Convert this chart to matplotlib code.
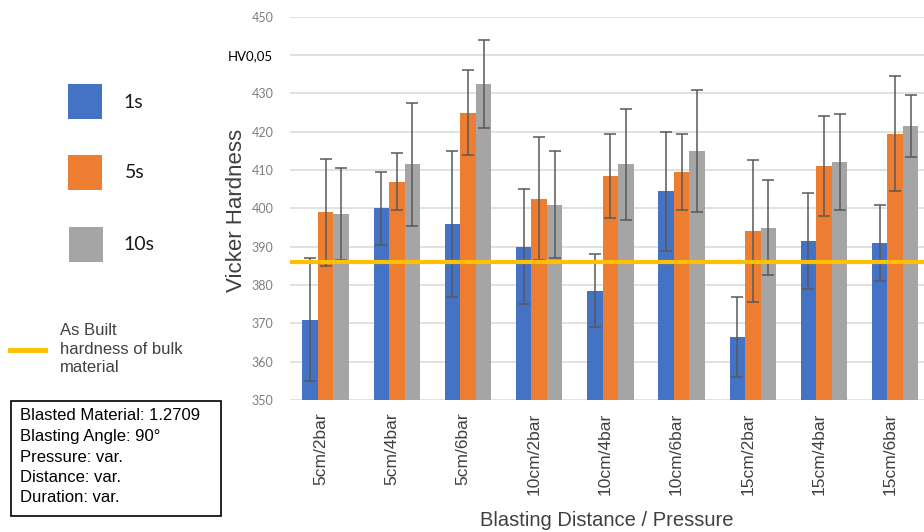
import matplotlib
matplotlib.use("Agg")
import matplotlib.pyplot as plt
import matplotlib.transforms as mtransforms
import numpy as np
from matplotlib.lines import Line2D
from matplotlib.patches import Rectangle

categories = ["5cm/2bar", "5cm/4bar", "5cm/6bar", "10cm/2bar", "10cm/4bar",
              "10cm/6bar", "15cm/2bar", "15cm/4bar", "15cm/6bar"]
durations = ["1s", "5s", "10s"]

# mean hardness per duration
hv_1s = [371, 400, 396, 390, 378.5, 404.5, 366.5, 391.5, 391]
hv_5s = [399, 407, 425, 402.5, 408.5, 409.5, 394, 411, 419.5]
hv_10s = [398.5, 411.5, 432.5, 401, 411.5, 415, 395, 412, 421.5]

# half-width of the error bars
err_1s = [16, 9.5, 19, 15, 9.5, 15.5, 10.5, 12.5, 10]
err_5s = [14, 7.5, 11, 16, 11, 10, 18.5, 13, 15]
err_10s = [12, 16, 11.5, 14, 14.5, 16, 12.5, 12.5, 8]

bulk_hardness = 386
y_ticks = [350, 360, 370, 380, 390, 400, 410, 420, 430, 440, 450]
y_tick_labels = ["350", "360", "370", "380", "390", "400", "410", "420", "430", "HV0,05", "450"]

info_lines = ["Blasted Material: 1.2709", "Blasting Angle: 90°", "Pressure: var.",
              "Distance: var.", "Duration: var."]

colors = ["#4472C4", "#ED7D31", "#A5A5A5"]
W, H = 924, 532


def fx(px):
    return px / W


def fy(py):
    return 1 - py / H


fig = plt.figure(figsize=(W / 100, H / 100), dpi=100)
ax = fig.add_axes([fx(290), fy(400), 1 - fx(290), fy(16.7) - fy(400)])

x = np.arange(len(categories))
width = 0.218
series = [(hv_1s, err_1s), (hv_5s, err_5s), (hv_10s, err_10s)]
for i, (vals, errs) in enumerate(series):
    ax.bar(x + (i - 1) * width, np.array(vals) - 350, width, bottom=350,
           color=colors[i], zorder=2,
           yerr=errs, error_kw=dict(ecolor="#595959", elinewidth=1.1,
                                    capsize=4.5, capthick=1.1, zorder=3))

ax.axhline(bulk_hardness, color="#FFC000", linewidth=3, zorder=4)

ax.set_ylim(350, 450)
ax.set_xlim(-0.5, -0.5 + (W - 290) / 71.2)
ax.set_yticks(y_ticks)
ax.set_yticklabels(y_tick_labels, fontfamily="Lato", fontsize=9, color="#7f7f7f")
ax.get_yticklabels()[9].set_color("black")
ax.get_yticklabels()[9].set_fontsize(9.5)
ax.grid(axis="y", color="#D9D9D9", linewidth=1.1, zorder=0)
ax.set_axisbelow(True)
for s in ax.spines.values():
    s.set_visible(False)
ax.tick_params(axis="y", length=0, pad=12)
ax.tick_params(axis="x", length=0, pad=9)

ax.set_xticks(x)
ax.set_xticklabels(categories, rotation=90, fontfamily="Liberation Sans",
                   fontsize=12.5, color="#404040", va="top")
offset = mtransforms.ScaledTranslation(-5 / 100, 0, fig.dpi_scale_trans)
for lab in ax.get_xticklabels():
    lab.set_transform(lab.get_transform() + offset)

fig.text(fx(237), fy(210), "Vicker Hardness", rotation=90, ha="center", va="center",
         fontfamily="Liberation Sans", fontsize=16, color="#404040")
fig.text(fx(607), fy(520), "Blasting Distance / Pressure", ha="center", va="center",
         fontfamily="Liberation Sans", fontsize=14.5, color="#404040")

# legend drawn by hand on the left
squares = [(68.3, 84.3), (67.7, 155), (69, 226.7)]
label_pos = [(123, 103), (125, 173), (123, 245)]
for c, (sx, sy), (tx, ty), name in zip(colors, squares, label_pos, durations):
    fig.add_artist(Rectangle((fx(sx), fy(sy + 35)), fx(34), 35 / H,
                             transform=fig.transFigure, facecolor=c, edgecolor="none"))
    fig.text(fx(tx), fy(ty), name, ha="left", va="center", fontfamily="Lato",
             fontsize=14, color="#1a1a1a")

fig.add_artist(Line2D([fx(10), fx(45)], [fy(350), fy(350)], transform=fig.transFigure,
                      color="#FFC000", linewidth=3.5))
fig.text(fx(60), fy(349), "As Built\nhardness of bulk\nmaterial", ha="left", va="center",
         fontfamily="Liberation Sans", fontsize=12, color="#404040", linespacing=1.32)

fig.add_artist(Rectangle((fx(11), fy(516)), fx(210), 115 / H, transform=fig.transFigure,
                         facecolor="white", edgecolor="black", linewidth=1.2))
for k, line in enumerate(info_lines):
    fig.text(fx(20), fy(416 + k * 20.5), line, ha="left", va="center",
             fontfamily="Liberation Sans", fontsize=12, color="black")

fig.savefig("out.png", dpi=100)
